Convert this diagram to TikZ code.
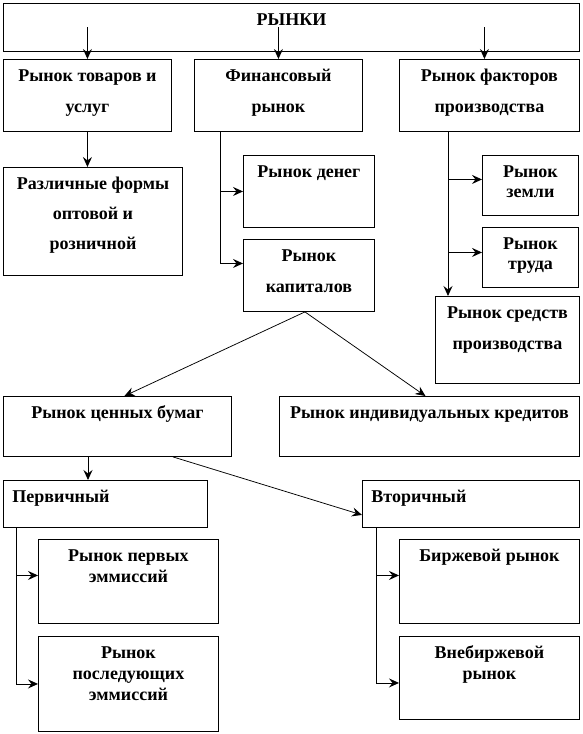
\documentclass[tikz,border=0pt]{standalone}
\usepackage{fontspec}
\setmainfont{Liberation Serif}
\usetikzlibrary{arrows.meta}

% [alignment]{width}{height}{leading}{text}
\newcommand{\cellbox}[5][\centering]{\parbox[c][#3pt][t]{#2pt}{#1\fontsize{18}{#4}\selectfont\bfseries\rule{0pt}{22pt}#5}}

\begin{document}
\begin{tikzpicture}[x=1pt, y=-1pt ,
box/.style={draw, line width=0.9pt, anchor=north west, inner sep=0pt} ,
arr/.style={line width=0.9pt, -{Stealth[length=10pt, width=9pt, inset=3.5pt]}} ,
link/.style={line width=0.75pt, -{Stealth[length=10pt, width=9pt, inset=3.5pt]}}
]
\useasboundingbox (0,0) rectangle (582,734) ;

% top row
\node (mkt) at (3,3) [box] {\cellbox{576}{48}{31}{РЫНКИ}} ;
\node (goods) at (3,59) [box] {\cellbox{168}{72}{31}{Рынок товаров и\\услуг}} ;
\node (fin) at (194,59) [box] {\cellbox{168}{72}{31}{Финансовый\\рынок}} ;
\node (factors) at (399,59) [box] {\cellbox{180}{72}{31}{Рынок факторов\\производства}} ;

% second level
\node (forms) at (3,167) [box] {\cellbox{179}{108}{30}{Различные формы\\оптовой и\\розничной}} ;
\node (money) at (243,155) [box] {\cellbox{131}{72}{31}{Рынок денег}} ;
\node (capital) at (243,239) [box] {\cellbox{131}{72}{31}{Рынок\\капиталов}} ;
\node (land) at (482,155) [box] {\cellbox{96}{60}{20}{Рынок\\земли}} ;
\node (labor) at (482,227) [box] {\cellbox{96}{60}{20}{Рынок\\труда}} ;
\node (means) at (435,296) [box] {\cellbox{144}{87}{31}{Рынок средств\\производства}} ;

% capital market
\node (securities) at (3,396) [box] {\cellbox{228}{60}{31}{Рынок ценных бумаг}} ;
\node (credits) at (279,396) [box] {\cellbox{300}{60}{31}{Рынок индивидуальных кредитов}} ;
\node (primary) at (3,480) [box] {\cellbox[\raggedright\hspace*{9pt}]{204}{47}{21}{Первичный}} ;
\node (secondary) at (362,480) [box] {\cellbox[\raggedright\hspace*{9pt}]{217}{47}{21}{Вторичный}} ;
\node (first) at (38,539) [box] {\cellbox{180}{84}{21}{Рынок первых\\эммиссий}} ;
\node (later) at (38,636) [box] {\cellbox{180}{95}{21}{Рынок\\последующих\\эммиссий}} ;
\node (exchange) at (399,539) [box] {\cellbox{180}{84}{21}{Биржевой рынок}} ;
\node (otc) at (399,636) [box] {\cellbox{180}{83}{21}{Внебиржевой\\рынок}} ;

% connectors
\draw [arr] (goods.north |- mkt.center) -- (goods.north) ;
\draw [arr] (fin.north |- mkt.center) -- (fin.north) ;
\draw [arr] ([xshift=-5pt]factors.north |- mkt.center) -- ([xshift=-5pt]factors.north) ;
\draw [arr] (goods.south) -- (goods.south |- forms.north) ;

\coordinate (finbar) at ([xshift=26pt]fin.south west) ;
\draw [arr] (finbar) |- (money.west) ;
\draw [arr] (finbar) |- ([yshift=12pt]capital.west) ;

\coordinate (facbar) at ([xshift=49pt]factors.south west) ;
\draw [arr] (facbar) -- (facbar |- means.north) ;
\draw [arr] (facbar) |- ([yshift=6pt]land.west) ;
\draw [arr] (facbar) |- ([yshift=5pt]labor.west) ;

\draw [link] ([xshift=-4pt]capital.south) -- ([xshift=7pt]securities.north) ;
\draw [link] ([xshift=-4pt]capital.south) -- ([xshift=-4pt]credits.north) ;

\coordinate (secbar) at ([xshift=85pt]securities.south west) ;
\draw [arr] (secbar) -- (secbar |- primary.north) ;
\draw [link] ([xshift=170pt]securities.south west) -- ([yshift=-11pt]secondary.west) ;

\coordinate (primbar) at ([xshift=13pt]primary.south west) ;
\draw [arr] (primbar) |- ([yshift=6pt]first.west) ;
\draw [arr] (primbar) |- (later.west) ;

\coordinate (scndbar) at ([xshift=14pt]secondary.south west) ;
\draw [arr] (scndbar) |- ([yshift=6pt]exchange.west) ;
\draw [arr] (scndbar) |- ([yshift=-5pt]otc.west) ;
\end{tikzpicture}
\end{document}
